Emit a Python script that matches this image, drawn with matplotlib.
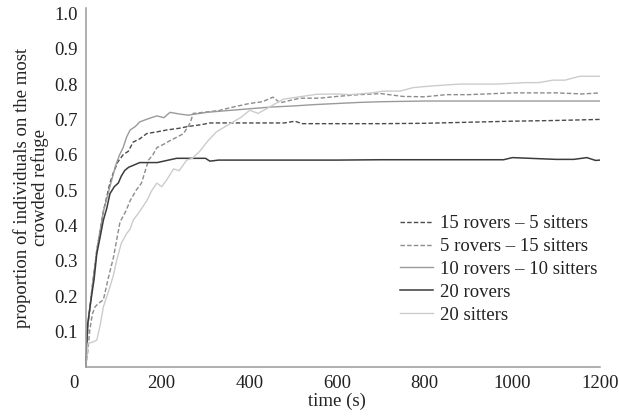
import matplotlib
matplotlib.use("Agg")
import matplotlib.pyplot as plt

plt.rcParams['font.family'] = ['Liberation Serif', 'DejaVu Serif']

# ---- data ----
t_r15s5 = [27, 32, 40, 52, 67, 82, 90, 100, 112, 124, 135, 150, 166, 190, 211, 240, 260, 290, 310, 400, 480, 504, 520, 600, 700, 800, 900, 1000, 1100, 1200]
v_r15s5 = [0.0, 0.12, 0.21, 0.33, 0.44, 0.52, 0.55, 0.58, 0.60, 0.61, 0.636, 0.645, 0.66, 0.665, 0.67, 0.675, 0.68, 0.685, 0.69, 0.69, 0.69, 0.695, 0.688, 0.688, 0.688, 0.689, 0.692, 0.695, 0.697, 0.70]

t_r5s15 = [27, 32, 36, 42, 48, 56, 67, 78, 90, 105, 118, 128, 142, 154, 170, 180, 189, 205, 219, 235, 250, 265, 272, 295, 330, 363, 400, 430, 454, 470, 515, 560, 600, 650, 700, 750, 800, 850, 900, 1000, 1100, 1160, 1200]
v_r5s15 = [0.0, 0.05, 0.105, 0.15, 0.17, 0.18, 0.19, 0.25, 0.31, 0.41, 0.44, 0.47, 0.50, 0.52, 0.585, 0.60, 0.62, 0.63, 0.64, 0.65, 0.66, 0.69, 0.717, 0.72, 0.725, 0.735, 0.745, 0.75, 0.763, 0.747, 0.76, 0.76, 0.765, 0.77, 0.773, 0.765, 0.764, 0.77, 0.77, 0.775, 0.775, 0.772, 0.775]

t_r10s10 = [27, 32, 40, 52, 67, 82, 95, 104, 112, 120, 128, 140, 150, 165, 189, 205, 219, 242, 260, 303, 350, 400, 450, 500, 550, 600, 650, 700, 800, 900, 1000, 1100, 1200]
v_r10s10 = [0.0, 0.12, 0.21, 0.33, 0.44, 0.51, 0.57, 0.60, 0.62, 0.65, 0.67, 0.68, 0.693, 0.70, 0.71, 0.705, 0.72, 0.715, 0.712, 0.72, 0.725, 0.73, 0.735, 0.738, 0.742, 0.745, 0.748, 0.75, 0.752, 0.752, 0.752, 0.752, 0.752]

t_r20 = [27, 31, 40, 46, 52, 60, 67, 75, 82, 92, 101, 108, 116, 125, 135, 150, 190, 234, 300, 310, 330, 500, 600, 700, 800, 900, 980, 1000, 1100, 1140, 1170, 1190, 1200]
v_r20 = [0.0, 0.12, 0.20, 0.25, 0.32, 0.37, 0.415, 0.45, 0.49, 0.51, 0.52, 0.54, 0.556, 0.565, 0.57, 0.578, 0.578, 0.59, 0.59, 0.582, 0.585, 0.585, 0.585, 0.586, 0.586, 0.586, 0.586, 0.592, 0.587, 0.587, 0.592, 0.584, 0.585]

t_s20 = [27, 32, 42, 52, 60, 67, 75, 82, 90, 97, 108, 120, 128, 135, 150, 166, 178, 189, 200, 211, 227, 240, 257, 270, 287, 306, 325, 363, 380, 401, 420, 439, 460, 477, 520, 553, 600, 629, 680, 705, 744, 774, 820, 881, 965, 1032, 1060, 1093, 1120, 1154, 1200]
v_s20 = [0.0, 0.067, 0.07, 0.076, 0.12, 0.17, 0.2, 0.227, 0.26, 0.30, 0.35, 0.377, 0.39, 0.415, 0.44, 0.47, 0.5, 0.52, 0.51, 0.528, 0.56, 0.555, 0.585, 0.59, 0.61, 0.64, 0.665, 0.693, 0.705, 0.726, 0.717, 0.73, 0.745, 0.757, 0.765, 0.771, 0.772, 0.77, 0.775, 0.78, 0.78, 0.79, 0.795, 0.80, 0.80, 0.804, 0.804, 0.811, 0.811, 0.822, 0.822]

series_labels = ["15 rovers – 5 sitters", "5 rovers – 15 sitters", "10 rovers – 10 sitters", "20 rovers", "20 sitters"]
x_ticks = [0, 200, 400, 600, 800, 1000, 1200]
y_ticks = [0.1, 0.2, 0.3, 0.4, 0.5, 0.6, 0.7, 0.8, 0.9, 1.0]

# ---- figure ----
W, H = 619, 417
fig = plt.figure(figsize=(W / 100, H / 100), dpi=100)
left, right, top, bottom = 74, 600, 8, 367
ax = fig.add_axes([left / W, (H - bottom) / H, (right - left) / W, (bottom - top) / H])

fs = 13.5
ax.plot(t_r15s5, v_r15s5, color='#4a4a4a', lw=1.0, dashes=(3.2, 1.6), label=series_labels[0])
ax.plot(t_r5s15, v_r5s15, color='#8c8c8c', lw=1.0, dashes=(3.2, 1.6), label=series_labels[1])
ax.plot(t_r10s10, v_r10s10, color='#9a9a9a', lw=1.0, label=series_labels[2])
ax.plot(t_r20, v_r20, color='#3c3c3c', lw=1.1, label=series_labels[3])
ax.plot(t_s20, v_s20, color='#cccccc', lw=1.0, label=series_labels[4])

ax.set_xlim(0, 1200)
ax.set_ylim(0, 1.015)
ax.set_xticks(x_ticks)
ax.set_xticklabels([str(v) for v in x_ticks])
ax.set_yticks(y_ticks)
ax.set_yticklabels([f"{v:.1f}" for v in y_ticks])
ax.tick_params(length=0, labelsize=fs, colors='#222222')
ax.tick_params(axis='x', pad=6)
ax.tick_params(axis='y', pad=6)

for s in ['top', 'right']:
    ax.spines[s].set_visible(False)
ax.spines['left'].set_position(('data', 27))
ax.spines['bottom'].set_bounds(27, 1200)
for s in ['left', 'bottom']:
    ax.spines[s].set_color('#9a9a9a')
    ax.spines[s].set_linewidth(1.1)

fig.text(337 / W, 1 - 401 / H, "time (s)", ha='center', va='center', fontsize=fs, color='#222222')
fig.text(31 / W, 1 - 188 / H, "proportion of individuals on the most\ncrowded refuge",
         ha='center', va='center', rotation=90, fontsize=fs, color='#222222', linespacing=1.0)

leg = ax.legend(loc='upper left', bbox_to_anchor=(400 / W, 1 - 215 / H), bbox_transform=fig.transFigure,
                frameon=False, fontsize=fs, handlelength=1.76, handletextpad=0.37,
                labelspacing=0.31, borderpad=0, borderaxespad=0)
for txt in leg.get_texts():
    txt.set_color('#222222')

fig.savefig("out.png", dpi=100)
